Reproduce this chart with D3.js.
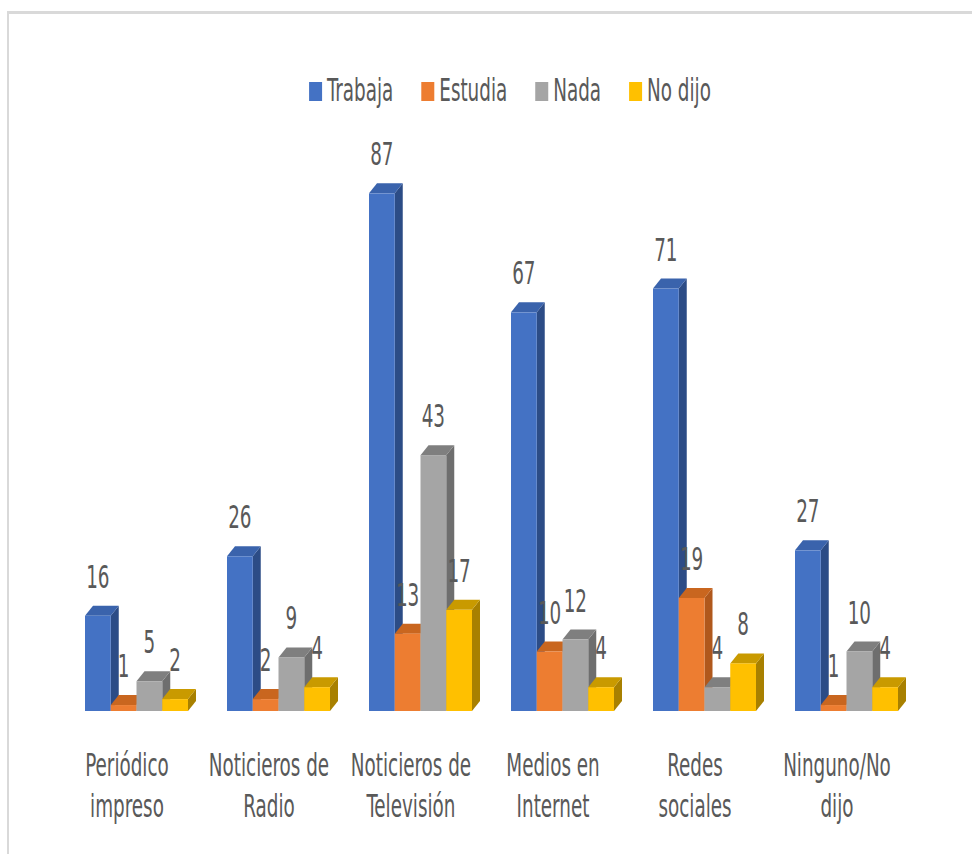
<!DOCTYPE html>
<html>
<head>
<meta charset="utf-8">
<script src="https://cdn.jsdelivr.net/npm/d3@7"></script>
<style>
  html, body { margin: 0; padding: 0; background: #fff; }
  svg { display: block; }
  text { font-family: "Liberation Sans Narrow", "Arial Narrow", "DejaVu Sans Condensed", sans-serif; fill: #595959; }
</style>
</head>
<body>
<svg id="chart" width="972" height="854"></svg>
<script>
const categories = [
  ["Periódico", "impreso"],
  ["Noticieros de", "Radio"],
  ["Noticieros de", "Televisión"],
  ["Medios en", "Internet"],
  ["Redes", "sociales"],
  ["Ninguno/No", "dijo"]
];
const seriesNames = ["Trabaja", "Estudia", "Nada", "No dijo"];
const trabaja = [16, 26, 87, 67, 71, 27];
const estudia = [1, 2, 13, 10, 19, 1];
const nada    = [5, 9, 43, 12, 4, 10];
const noDijo  = [2, 4, 17, 4, 8, 4];
const seriesValues = [trabaja, estudia, nada, noDijo];

const colors = {
  front: ["#4472C4", "#ED7D31", "#A5A5A5", "#FFC000"],
  top:   ["#3A63AC", "#C9661F", "#7F7F7F", "#C99A00"],
  side:  ["#2C4C86", "#B0581C", "#6E6E6E", "#A88000"]
};

const svg = d3.select("#chart");
const SX = 0.85, SY = 1.3;

// border
svg.append("line").attr("x1", 8).attr("x2", 972).attr("y1", 12.5).attr("y2", 12.5)
  .attr("stroke", "#d9d9d9").attr("stroke-width", 3);
svg.append("line").attr("x1", 8).attr("x2", 8).attr("y1", 11).attr("y2", 854)
  .attr("stroke", "#d9d9d9").attr("stroke-width", 2);

const catKeys = categories.map(c => c.join(" "));
const x0 = d3.scaleBand().domain(catKeys).range([56, 908]).paddingInner(0).paddingOuter(0);
const x1 = d3.scaleBand().domain(seriesNames).range([29, 132]).padding(0);
const y = d3.scaleLinear().domain([0, 100]).range([711, 116]);
const DX = 8, DY = 10;

function addText(g, x, yy, str, size, anchor) {
  return g.append("text")
    .attr("transform", `translate(${x},${yy}) scale(${SX},${SY})`)
    .attr("text-anchor", anchor || "middle")
    .attr("font-size", size)
    .text(str);
}

const barsG = svg.append("g");
categories.forEach((cat, ci) => {
  const key = catKeys[ci];
  seriesNames.forEach((s, si) => {
    const v = seriesValues[si][ci];
    const xl = x0(key) + x1(s);
    const w = x1.bandwidth();
    const yt = y(v), yb = y(0);
    const g = barsG.append("g");
    g.append("polygon")
      .attr("points", [[xl + w, yt], [xl + w + DX, yt - DY], [xl + w + DX, yb - DY], [xl + w, yb]].map(p => p.join(",")).join(" "))
      .attr("fill", colors.side[si]);
    g.append("polygon")
      .attr("points", [[xl, yt], [xl + DX, yt - DY], [xl + w + DX, yt - DY], [xl + w, yt]].map(p => p.join(",")).join(" "))
      .attr("fill", colors.top[si]);
    g.append("rect")
      .attr("x", xl).attr("y", yt).attr("width", w).attr("height", yb - yt)
      .attr("fill", colors.front[si]);
  });
});

// value labels
const labG = svg.append("g");
categories.forEach((cat, ci) => {
  const key = catKeys[ci];
  seriesNames.forEach((s, si) => {
    const v = seriesValues[si][ci];
    const cx = x0(key) + x1(s) + x1.bandwidth() / 2;
    addText(labG, cx, y(v) - 28, String(v), 24);
  });
});

// category labels
const catG = svg.append("g");
categories.forEach((cat, ci) => {
  const cx = x0(catKeys[ci]) + x0.bandwidth() / 2;
  addText(catG, cx, 776, cat[0], 24);
  addText(catG, cx, 817, cat[1], 24);
});

// legend
const legG = svg.append("g");
const items = [];
seriesNames.forEach((s, si) => {
  const ig = legG.append("g");
  ig.append("rect").attr("x", 0).attr("y", -19).attr("width", 13).attr("height", 19).attr("fill", colors.front[si]);
  const t = addText(ig, 18, 0, s, 24, "start");
  const tw = t.node().getComputedTextLength() * SX;
  items.push({ g: ig, w: 18 + tw });
});
const gap = 28;
const total = d3.sum(items, d => d.w) + gap * (items.length - 1);
let lx = 510 - total / 2;
items.forEach(it => {
  it.g.attr("transform", `translate(${lx},101)`);
  lx += it.w + gap;
});
</script>
</body>
</html>
